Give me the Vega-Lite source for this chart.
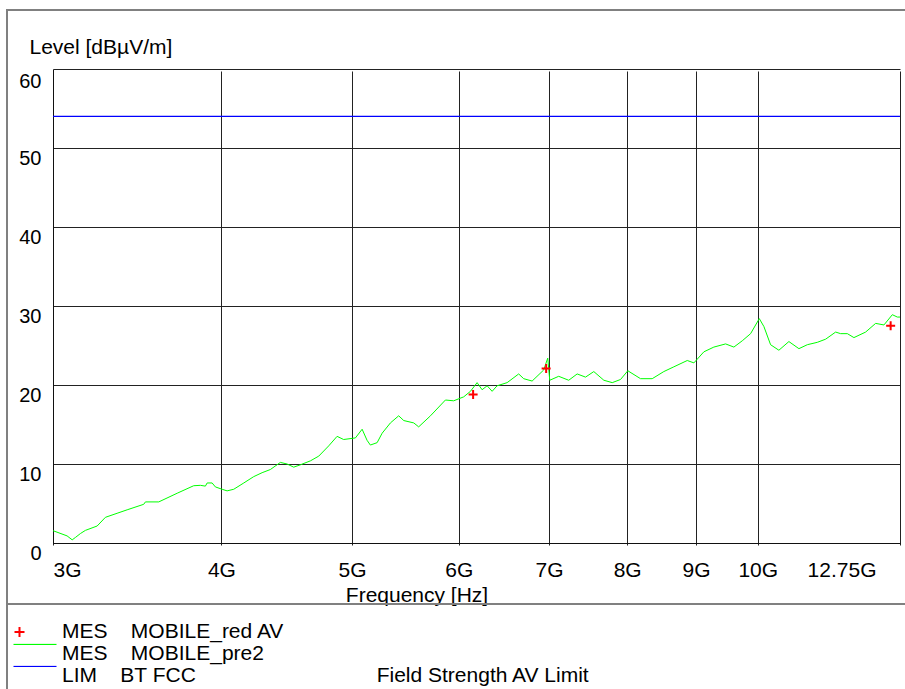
{
  "$schema": "https://vega.github.io/schema/vega-lite/v6.json",
  "width": 899,
  "height": 594,
  "autosize": {"type": "none"},
  "padding": {"left": 7, "top": 10, "right": -1, "bottom": 85},
  "background": "white",
  "title": {"text": "yp", "fontSize": 21, "fontWeight": "bold", "baseline": "alphabetic", "offset": 9.5, "dx": 14.5, "anchor": "middle", "frame": "group", "color": "#000"},
  "datasets": {
    "pre2": [
      {"f_GHz": 3.000, "level": 1.56, "series": "MOBILE_pre2"},
      {"f_GHz": 3.073, "level": 0.9, "series": "MOBILE_pre2"},
      {"f_GHz": 3.100, "level": 0.4, "series": "MOBILE_pre2"},
      {"f_GHz": 3.117, "level": 0.7, "series": "MOBILE_pre2"},
      {"f_GHz": 3.144, "level": 1.2, "series": "MOBILE_pre2"},
      {"f_GHz": 3.171, "level": 1.6, "series": "MOBILE_pre2"},
      {"f_GHz": 3.235, "level": 2.15, "series": "MOBILE_pre2"},
      {"f_GHz": 3.281, "level": 3.25, "series": "MOBILE_pre2"},
      {"f_GHz": 3.347, "level": 3.76, "series": "MOBILE_pre2"},
      {"f_GHz": 3.405, "level": 4.2, "series": "MOBILE_pre2"},
      {"f_GHz": 3.503, "level": 4.9, "series": "MOBILE_pre2"},
      {"f_GHz": 3.513, "level": 5.2, "series": "MOBILE_pre2"},
      {"f_GHz": 3.594, "level": 5.2, "series": "MOBILE_pre2"},
      {"f_GHz": 3.709, "level": 6.3, "series": "MOBILE_pre2"},
      {"f_GHz": 3.815, "level": 7.25, "series": "MOBILE_pre2"},
      {"f_GHz": 3.859, "level": 7.3, "series": "MOBILE_pre2"},
      {"f_GHz": 3.892, "level": 7.2, "series": "MOBILE_pre2"},
      {"f_GHz": 3.904, "level": 7.6, "series": "MOBILE_pre2"},
      {"f_GHz": 3.937, "level": 7.6, "series": "MOBILE_pre2"},
      {"f_GHz": 3.959, "level": 7.1, "series": "MOBILE_pre2"},
      {"f_GHz": 4.005, "level": 6.8, "series": "MOBILE_pre2"},
      {"f_GHz": 4.039, "level": 6.6, "series": "MOBILE_pre2"},
      {"f_GHz": 4.085, "level": 6.8, "series": "MOBILE_pre2"},
      {"f_GHz": 4.156, "level": 7.6, "series": "MOBILE_pre2"},
      {"f_GHz": 4.227, "level": 8.4, "series": "MOBILE_pre2"},
      {"f_GHz": 4.288, "level": 8.9, "series": "MOBILE_pre2"},
      {"f_GHz": 4.349, "level": 9.3, "series": "MOBILE_pre2"},
      {"f_GHz": 4.424, "level": 10.2, "series": "MOBILE_pre2"},
      {"f_GHz": 4.475, "level": 10.0, "series": "MOBILE_pre2"},
      {"f_GHz": 4.526, "level": 9.6, "series": "MOBILE_pre2"},
      {"f_GHz": 4.578, "level": 9.9, "series": "MOBILE_pre2"},
      {"f_GHz": 4.657, "level": 10.4, "series": "MOBILE_pre2"},
      {"f_GHz": 4.724, "level": 11.0, "series": "MOBILE_pre2"},
      {"f_GHz": 4.805, "level": 12.3, "series": "MOBILE_pre2"},
      {"f_GHz": 4.874, "level": 13.5, "series": "MOBILE_pre2"},
      {"f_GHz": 4.929, "level": 13.1, "series": "MOBILE_pre2"},
      {"f_GHz": 5.029, "level": 13.3, "series": "MOBILE_pre2"},
      {"f_GHz": 5.087, "level": 14.4, "series": "MOBILE_pre2"},
      {"f_GHz": 5.130, "level": 13.0, "series": "MOBILE_pre2"},
      {"f_GHz": 5.159, "level": 12.4, "series": "MOBILE_pre2"},
      {"f_GHz": 5.219, "level": 12.7, "series": "MOBILE_pre2"},
      {"f_GHz": 5.264, "level": 13.9, "series": "MOBILE_pre2"},
      {"f_GHz": 5.339, "level": 15.2, "series": "MOBILE_pre2"},
      {"f_GHz": 5.415, "level": 16.1, "series": "MOBILE_pre2"},
      {"f_GHz": 5.462, "level": 15.5, "series": "MOBILE_pre2"},
      {"f_GHz": 5.556, "level": 15.2, "series": "MOBILE_pre2"},
      {"f_GHz": 5.603, "level": 14.7, "series": "MOBILE_pre2"},
      {"f_GHz": 5.717, "level": 16.1, "series": "MOBILE_pre2"},
      {"f_GHz": 5.865, "level": 18.1, "series": "MOBILE_pre2"},
      {"f_GHz": 5.948, "level": 18.0, "series": "MOBILE_pre2"},
      {"f_GHz": 6.051, "level": 18.5, "series": "MOBILE_pre2"},
      {"f_GHz": 6.121, "level": 19.2, "series": "MOBILE_pre2"},
      {"f_GHz": 6.191, "level": 20.3, "series": "MOBILE_pre2"},
      {"f_GHz": 6.244, "level": 19.4, "series": "MOBILE_pre2"},
      {"f_GHz": 6.298, "level": 19.9, "series": "MOBILE_pre2"},
      {"f_GHz": 6.352, "level": 19.2, "series": "MOBILE_pre2"},
      {"f_GHz": 6.406, "level": 19.9, "series": "MOBILE_pre2"},
      {"f_GHz": 6.517, "level": 20.3, "series": "MOBILE_pre2"},
      {"f_GHz": 6.647, "level": 21.4, "series": "MOBILE_pre2"},
      {"f_GHz": 6.704, "level": 20.8, "series": "MOBILE_pre2"},
      {"f_GHz": 6.801, "level": 20.5, "series": "MOBILE_pre2"},
      {"f_GHz": 6.937, "level": 21.9, "series": "MOBILE_pre2"},
      {"f_GHz": 6.985, "level": 23.4, "series": "MOBILE_pre2"},
      {"f_GHz": 7.009, "level": 20.6, "series": "MOBILE_pre2"},
      {"f_GHz": 7.117, "level": 21.1, "series": "MOBILE_pre2"},
      {"f_GHz": 7.240, "level": 20.6, "series": "MOBILE_pre2"},
      {"f_GHz": 7.345, "level": 21.4, "series": "MOBILE_pre2"},
      {"f_GHz": 7.451, "level": 21.0, "series": "MOBILE_pre2"},
      {"f_GHz": 7.557, "level": 21.7, "series": "MOBILE_pre2"},
      {"f_GHz": 7.688, "level": 20.6, "series": "MOBILE_pre2"},
      {"f_GHz": 7.799, "level": 20.3, "series": "MOBILE_pre2"},
      {"f_GHz": 7.910, "level": 20.7, "series": "MOBILE_pre2"},
      {"f_GHz": 8.009, "level": 21.8, "series": "MOBILE_pre2"},
      {"f_GHz": 8.185, "level": 20.8, "series": "MOBILE_pre2"},
      {"f_GHz": 8.350, "level": 20.8, "series": "MOBILE_pre2"},
      {"f_GHz": 8.517, "level": 21.7, "series": "MOBILE_pre2"},
      {"f_GHz": 8.664, "level": 22.3, "series": "MOBILE_pre2"},
      {"f_GHz": 8.865, "level": 23.1, "series": "MOBILE_pre2"},
      {"f_GHz": 8.966, "level": 22.8, "series": "MOBILE_pre2"},
      {"f_GHz": 9.120, "level": 24.2, "series": "MOBILE_pre2"},
      {"f_GHz": 9.277, "level": 24.8, "series": "MOBILE_pre2"},
      {"f_GHz": 9.465, "level": 25.2, "series": "MOBILE_pre2"},
      {"f_GHz": 9.600, "level": 24.8, "series": "MOBILE_pre2"},
      {"f_GHz": 9.739, "level": 25.6, "series": "MOBILE_pre2"},
      {"f_GHz": 9.878, "level": 26.5, "series": "MOBILE_pre2"},
      {"f_GHz": 10.026, "level": 28.4, "series": "MOBILE_pre2"},
      {"f_GHz": 10.105, "level": 27.4, "series": "MOBILE_pre2"},
      {"f_GHz": 10.221, "level": 25.1, "series": "MOBILE_pre2"},
      {"f_GHz": 10.367, "level": 24.4, "series": "MOBILE_pre2"},
      {"f_GHz": 10.546, "level": 25.5, "series": "MOBILE_pre2"},
      {"f_GHz": 10.728, "level": 24.6, "series": "MOBILE_pre2"},
      {"f_GHz": 10.883, "level": 25.1, "series": "MOBILE_pre2"},
      {"f_GHz": 11.070, "level": 25.4, "series": "MOBILE_pre2"},
      {"f_GHz": 11.229, "level": 25.8, "series": "MOBILE_pre2"},
      {"f_GHz": 11.422, "level": 26.7, "series": "MOBILE_pre2"},
      {"f_GHz": 11.520, "level": 26.5, "series": "MOBILE_pre2"},
      {"f_GHz": 11.653, "level": 26.5, "series": "MOBILE_pre2"},
      {"f_GHz": 11.785, "level": 26.0, "series": "MOBILE_pre2"},
      {"f_GHz": 12.023, "level": 26.7, "series": "MOBILE_pre2"},
      {"f_GHz": 12.230, "level": 27.8, "series": "MOBILE_pre2"},
      {"f_GHz": 12.405, "level": 27.6, "series": "MOBILE_pre2"},
      {"f_GHz": 12.584, "level": 28.9, "series": "MOBILE_pre2"},
      {"f_GHz": 12.692, "level": 28.6, "series": "MOBILE_pre2"},
      {"f_GHz": 12.750, "level": 28.6, "series": "MOBILE_pre2"}
    ],
    "final": [
      {"f_GHz": 6.149, "level": 18.8, "series": "MOBILE_red AV"},
      {"f_GHz": 6.966, "level": 22.1, "series": "MOBILE_red AV"},
      {"f_GHz": 12.548, "level": 27.5, "series": "MOBILE_red AV"}
    ],
    "limit": [
      {"f_GHz": 3.0, "level": 54, "series": "BT FCC"},
      {"f_GHz": 12.75, "level": 54, "series": "BT FCC"}
    ]
  },
  "encoding": {
    "x": {
      "field": "f_GHz", "type": "quantitative",
      "scale": {"type": "log", "domain": [3, 12.75], "range": [46, 893], "nice": false},
      "axis": {
        "values": [3, 4, 5, 6, 7, 8, 9, 10, 12.75],
        "labelExpr": "datum.value + 'G'",
        "offset": -61, "grid": true, "gridColor": "#222222", "gridWidth": 1,
        "domainColor": "#111111", "domainWidth": 1, "ticks": false,
        "labelPadding": 16, "labelFontSize": 21, "labelFlush": true, "labelOverlap": false, "labelColor": "#000000",
        "labelOffset": {"condition": {"test": "datum.value == 12.75", "value": -24}, "value": 0},
        "title": "Frequency [Hz]", "titleX": 409.5, "titleY": 58.5, "titleAlign": "center", "titleBaseline": "alphabetic",
        "titleFontSize": 21, "titleFontWeight": "normal", "titleColor": "#000000"
      }
    },
    "y": {
      "field": "level", "type": "quantitative",
      "scale": {"domain": [0, 60], "range": [533, 59], "nice": false, "zero": false},
      "axis": {
        "values": [0, 10, 20, 30, 40, 50, 60],
        "offset": -46, "grid": true, "gridColor": "#222222", "gridWidth": 1,
        "domainColor": "#111111", "domainWidth": 1, "ticks": false,
        "labelPadding": 12, "labelFontSize": 20, "labelBaseline": "middle", "labelOverlap": false, "labelColor": "#000000",
        "labelOffset": {"condition": {"test": "datum.value == 60", "value": 12}, "value": 10},
        "title": "Level [dBµV/m]", "titleAngle": 0, "titleX": -24, "titleY": 43.3, "titleAlign": "left", "titleBaseline": "alphabetic",
        "titleFontSize": 21, "titleFontWeight": "normal", "titleColor": "#000000"
      }
    },
    "color": {
      "field": "series", "type": "nominal",
      "scale": {"domain": ["MOBILE_red AV", "MOBILE_pre2", "BT FCC"], "range": ["#ff0000", "#00ff00", "#0000ff"]},
      "legend": {
        "orient": "none", "legendX": 0, "legendY": 594,
        "title": "\u00a0", "titleFontSize": 10, "titlePadding": 1.5,
        "padding": 6, "strokeColor": "#808080",
        "labelFontSize": 21, "labelLimit": 3000, "labelOffset": 28, "labelColor": "#000000",
        "symbolOffset": 0, "rowPadding": 0, "symbolSize": 100, "clipHeight": 21,
        "labelExpr": "datum.label == 'MOBILE_red AV' ? 'MES\u00a0\u00a0\u00a0\u00a0MOBILE_red AV' : datum.label == 'MOBILE_pre2' ? 'MES\u00a0\u00a0\u00a0\u00a0MOBILE_pre2' : 'LIM\u00a0\u00a0\u00a0\u00a0BT FCC\u00a0\u00a0\u00a0\u00a0\u00a0\u00a0\u00a0\u00a0\u00a0\u00a0\u00a0\u00a0\u00a0\u00a0\u00a0\u00a0\u00a0\u00a0\u00a0\u00a0\u00a0\u00a0\u00a0\u00a0\u00a0\u00a0\u00a0\u00a0\u00a0\u00a0\u00a0Field Strength AV Limit\u00a0\u00a0\u00a0\u00a0\u00a0\u00a0\u00a0\u00a0\u00a0\u00a0\u00a0\u00a0\u00a0\u00a0\u00a0\u00a0\u00a0\u00a0\u00a0\u00a0\u00a0\u00a0\u00a0\u00a0\u00a0\u00a0\u00a0\u00a0\u00a0\u00a0\u00a0\u00a0\u00a0\u00a0\u00a0\u00a0\u00a0\u00a0\u00a0\u00a0\u00a0\u00a0\u00a0\u00a0\u00a0\u00a0\u00a0\u00a0\u00a0\u00a0\u00a0\u00a0\u00a0\u00a0\u00a0\u00a0\u200b'",
        "encode": {
          "symbols": {"update": {
            "shape": {"signal": "datum.value == 'MOBILE_red AV' ? 'M-1.8,0H0.2M-0.8,-1V1' : 'M-2,-1.94H6.6'"},
            "size": {"value": 100},
            "strokeWidth": {"signal": "datum.value == 'MOBILE_red AV' ? 2 : 1.3"},
            "fill": {"value": "transparent"},
            "opacity": {"value": 1}
          }},
          "legend": {"update": {"strokeWidth": {"value": 2}}}
        }
      }
    }
  },
  "layer": [
    {"data": {"name": "limit"}, "mark": {"type": "line", "strokeWidth": 1.3}},
    {"data": {"name": "pre2"}, "mark": {"type": "line", "strokeWidth": 1}},
    {"data": {"name": "final"}, "mark": {"type": "point", "shape": "M-1,0H1M0,-1V1", "filled": false, "size": 81, "strokeWidth": 2, "opacity": 1}}
  ],
  "config": {
    "font": "Liberation Sans",
    "view": {"stroke": "#808080", "strokeWidth": 2}
  }
}
